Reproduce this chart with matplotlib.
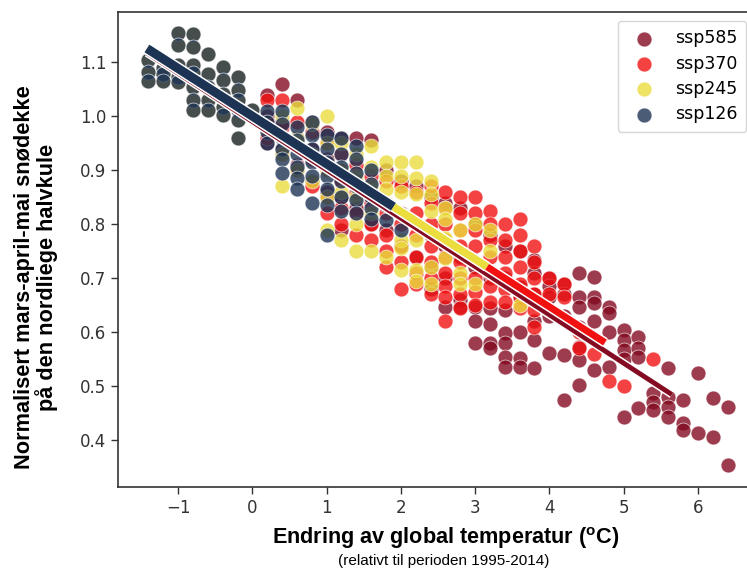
import matplotlib
matplotlib.use("Agg")
import matplotlib.pyplot as plt
import matplotlib.patheffects as pe
import numpy as np

# historical period, identical in every scenario
hist_x = [-1.4, -1.4, -1.4, -1.2, -1.2, -1.2,
          -1.0, -1.0, -1.0, -1.0, -1.0,
          -0.8, -0.8, -0.8, -0.8, -0.8, -0.8, -0.8,
          -0.6, -0.6, -0.6, -0.6, -0.6,
          -0.4, -0.4, -0.4, -0.4, -0.4,
          -0.2, -0.2, -0.2, -0.2, -0.2, -0.2, 0.0]
hist_y = [1.104, 1.082, 1.066, 1.09, 1.078, 1.066,
          1.154, 1.131, 1.094, 1.073, 1.064,
          1.153, 1.128, 1.094, 1.08, 1.054, 1.03, 1.011,
          1.116, 1.079, 1.054, 1.03, 1.011,
          1.091, 1.067, 1.042, 1.017, 1.002,
          1.073, 1.048, 1.03, 1.011, 0.993, 0.96, 1.011]

# future columns (x) and the snow cover values in each column
ssp585_cols = [0.2, 0.4, 0.6, 0.8, 1.0, 1.2, 1.4, 1.6, 1.8, 2.0, 2.2, 2.4, 2.6, 2.8,
               3.0, 3.2, 3.4, 3.6, 3.8, 4.0, 4.2, 4.4, 4.6, 4.8, 5.0, 5.2, 5.4,
               5.6, 5.8, 6.0, 6.2, 6.4]
ssp585_vals = [[1.04, 1.0, 0.95], [1.06, 0.99, 0.94], [1.03, 0.96, 0.91],
               [0.99, 0.94, 0.88], [0.97, 0.92, 0.86], [0.96, 0.9, 0.85, 0.79],
               [0.96, 0.88, 0.83], [0.955, 0.86, 0.8], [0.9, 0.84, 0.79],
               [0.88, 0.82, 0.76], [0.87, 0.8, 0.74], [0.85, 0.78, 0.72, 0.68],
               [0.84, 0.76, 0.7, 0.647], [0.83, 0.74, 0.66, 0.647],
               [0.8, 0.72, 0.647, 0.62, 0.58], [0.78, 0.7, 0.645, 0.615, 0.58, 0.57],
               [0.76, 0.7, 0.64, 0.598, 0.58, 0.554, 0.535],
               [0.75, 0.684, 0.665, 0.6, 0.552, 0.535],
               [0.733, 0.71, 0.67, 0.62, 0.585, 0.533],
               [0.70, 0.685, 0.665, 0.63, 0.561], [0.69, 0.67, 0.63, 0.557, 0.474],
               [0.709, 0.665, 0.647, 0.61, 0.572, 0.548, 0.502],
               [0.702, 0.665, 0.654, 0.621, 0.53], [0.647, 0.635, 0.6, 0.535],
               [0.604, 0.585, 0.567, 0.55, 0.443], [0.59, 0.57, 0.554, 0.459],
               [0.487, 0.47, 0.456], [0.533, 0.48, 0.462, 0.443],
               [0.474, 0.431, 0.418], [0.524, 0.413], [0.478, 0.406], [0.461, 0.354]]

ssp370_cols = [0.2, 0.4, 0.6, 0.8, 1.0, 1.2, 1.4, 1.6, 1.8, 2.0, 2.2, 2.4, 2.6, 2.8,
               3.0, 3.2, 3.4, 3.6, 3.8, 4.0, 4.2, 4.4, 4.6, 4.8, 5.0, 5.4]
ssp370_vals = [[1.03, 0.99, 0.96], [1.03, 0.98, 0.93], [0.99, 0.95, 0.9],
               [0.97, 0.92, 0.87], [0.95, 0.9, 0.85, 0.82], [0.93, 0.88, 0.83, 0.8],
               [0.91, 0.86, 0.82, 0.78], [0.89, 0.84, 0.8, 0.77],
               [0.88, 0.82, 0.78, 0.75, 0.72], [0.87, 0.8, 0.76, 0.73, 0.68],
               [0.86, 0.82, 0.78, 0.74, 0.71, 0.69],
               [0.87, 0.84, 0.8, 0.76, 0.73, 0.7, 0.67],
               [0.86, 0.83, 0.8, 0.77, 0.74, 0.71, 0.685, 0.665, 0.62],
               [0.85, 0.82, 0.79, 0.76, 0.73, 0.7, 0.67, 0.645],
               [0.85, 0.82, 0.79, 0.76, 0.73, 0.7, 0.675, 0.65],
               [0.825, 0.8, 0.77, 0.74, 0.71, 0.685, 0.655],
               [0.8, 0.77, 0.74, 0.71, 0.68, 0.655],
               [0.81, 0.78, 0.75, 0.72, 0.69, 0.665, 0.645],
               [0.76, 0.73, 0.7, 0.67, 0.64, 0.61],
               [0.70, 0.67, 0.64], [0.69, 0.665], [0.60, 0.57], [0.56], [0.51],
               [0.50], [0.55]]

ssp245_cols = [0.4, 0.6, 0.8, 1.0, 1.2, 1.4, 1.6, 1.8, 2.0, 2.2, 2.4, 2.6, 2.8,
               3.0, 3.2, 3.6]
ssp245_vals = [[1.0, 0.93, 0.87], [1.015, 0.96, 0.9], [0.985, 0.93, 0.88],
               [1.0, 0.95, 0.9, 0.85, 0.79], [0.95, 0.9, 0.86, 0.77],
               [0.93, 0.89, 0.85, 0.8, 0.75], [0.945, 0.905, 0.87, 0.82, 0.75],
               [0.915, 0.89, 0.865, 0.84, 0.74],
               [0.915, 0.89, 0.86, 0.77, 0.755, 0.715],
               [0.915, 0.885, 0.855, 0.77, 0.715, 0.695],
               [0.88, 0.855, 0.825, 0.72, 0.69], [0.83, 0.81, 0.775, 0.737],
               [0.79, 0.71, 0.69], [0.8, 0.69], [0.79, 0.75], [0.65]]

ssp126_cols = [0.2, 0.4, 0.6, 0.8, 1.0, 1.2, 1.4, 1.6, 1.8, 2.0]
ssp126_vals = [[1.01, 0.99, 0.97, 0.95], [1.01, 0.985, 0.96, 0.94, 0.92, 0.895],
               [0.98, 0.955, 0.93, 0.905, 0.885, 0.865],
               [0.99, 0.965, 0.94, 0.915, 0.89, 0.84],
               [0.965, 0.94, 0.915, 0.89, 0.865, 0.835, 0.78],
               [0.96, 0.93, 0.905, 0.88, 0.85, 0.825],
               [0.945, 0.92, 0.895, 0.87, 0.845, 0.82],
               [0.9, 0.875, 0.85, 0.83, 0.81], [0.835, 0.807], [0.79]]

scenarios = ['ssp585', 'ssp370', 'ssp245', 'ssp126']
colors = {'ssp585': '#840b22', 'ssp370': '#f21111',
          'ssp245': '#eadd3d', 'ssp126': '#1d3354'}
columns = {'ssp585': (ssp585_cols, ssp585_vals), 'ssp370': (ssp370_cols, ssp370_vals),
           'ssp245': (ssp245_cols, ssp245_vals), 'ssp126': (ssp126_cols, ssp126_vals)}

# fitted lines: slope, value at 0 degC, x range
fit_slope = {'ssp585': -0.0895, 'ssp370': -0.0883, 'ssp245': -0.0883, 'ssp126': -0.0883}
fit_icpt = {'ssp585': 0.99, 'ssp370': 1.0, 'ssp245': 1.0, 'ssp126': 1.0}
fit_xmin = -1.42
fit_xmax = {'ssp585': 5.65, 'ssp370': 4.75, 'ssp245': 3.16, 'ssp126': 1.90}
fit_lw = {'ssp585': 3.5, 'ssp370': 5, 'ssp245': 5.5, 'ssp126': 6.5}

fig = plt.figure(figsize=(7.47, 5.71), dpi=100)
# the source figure is cut off at the right, the axes run past the edge
ax = fig.add_axes([118/747, 1-487/571, (755-118)/747, (487-12)/571])

for s in scenarios:
    cols, vals = columns[s]
    xs = list(hist_x)
    ys = list(hist_y)
    for c, v in zip(cols, vals):
        xs += [c]*len(v)
        ys += v
    ax.scatter(xs, ys, s=115, color=colors[s], alpha=0.8, edgecolor='white',
               linewidth=0.5, label=s, zorder=2)

for s in scenarios:
    xx = np.array([fit_xmin, fit_xmax[s]])
    yy = fit_icpt[s] + fit_slope[s]*xx
    ax.plot(xx, yy, color=colors[s], lw=fit_lw[s], solid_capstyle='butt', zorder=3,
            path_effects=[pe.Stroke(linewidth=fit_lw[s]+2.2, foreground='white'), pe.Normal()])

ax.set_xlim(-1.81, 6.77)
ax.set_ylim(0.313, 1.193)
ax.set_xticks(range(-1, 7))
ax.set_yticks([0.4, 0.5, 0.6, 0.7, 0.8, 0.9, 1.0, 1.1])
ax.tick_params(labelsize=12, colors='#333333', length=5, width=1)
for sp in ax.spines.values():
    sp.set_color('#333333')
    sp.set_linewidth(1.2)

leg = ax.legend(loc='upper right', fontsize=12.5, frameon=True, borderpad=0.5,
                handletextpad=0.8, labelspacing=0.42, borderaxespad=0.5)
leg.get_frame().set_edgecolor('#cccccc')

narrow = ['Liberation Sans Narrow', 'Liberation Sans']
fig.text(446/747, 1-538/571, 'Endring av global temperatur ($^{\\mathregular{o}}$C)',
         ha='center', va='center', fontsize=15.6, fontweight='bold', family=narrow)
fig.text(444/747, 1-561/571, '(relativt til perioden 1995-2014)',
         ha='center', va='center', fontsize=11, family=narrow)
fig.text(36/747, 1-277/571, 'Normalisert mars-april-mai snødekke\npå den nordliege halvkule',
         ha='center', va='center', rotation=90, fontsize=15.7, fontweight='bold',
         linespacing=1.0, family=narrow)

fig.savefig('out.png', dpi=100)
